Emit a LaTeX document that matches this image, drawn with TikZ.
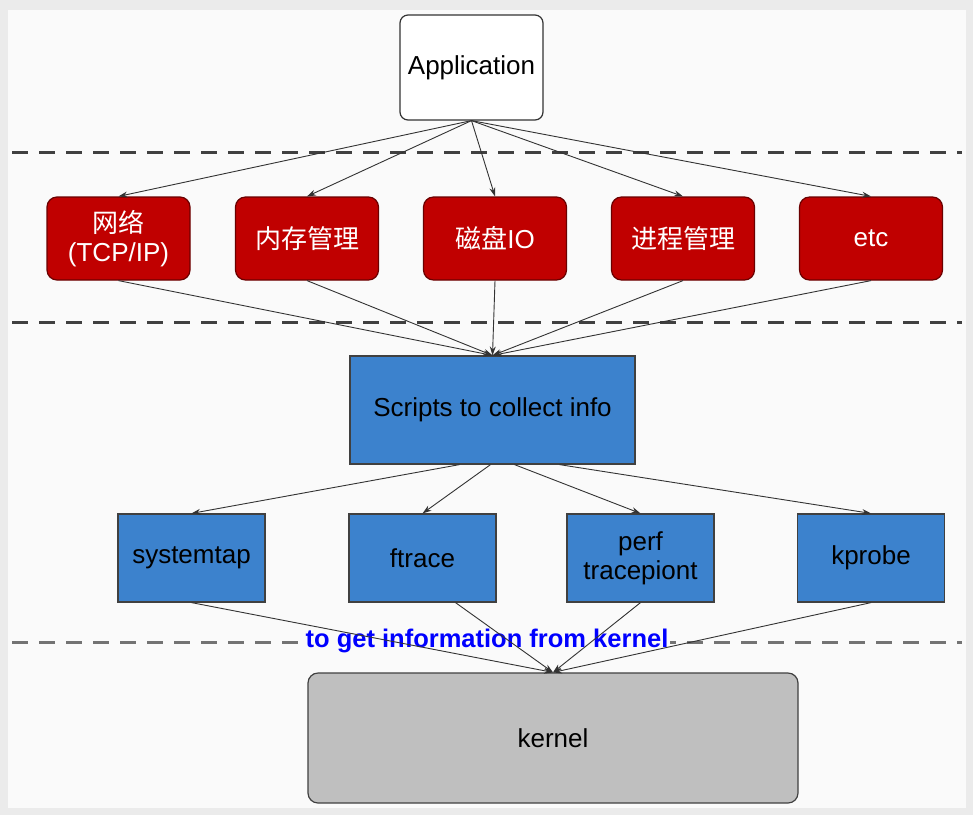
\documentclass[tikz,border=0pt]{standalone}
\usepackage{fontspec}
\setmainfont{Liberation Sans}
\newfontfamily\cjk{Noto Sans CJK SC}
\usepackage{tikz}
\usetikzlibrary{positioning}
\usetikzlibrary{arrows.meta}
\usepackage{xcolor}
\definecolor{layerred}{RGB}{192,0,0}
\definecolor{layerblue}{RGB}{60,130,205}
\definecolor{kernelgray}{RGB}{191,191,191}
\definecolor{pagebg}{RGB}{250,250,250}

\begin{document}
\begin{tikzpicture}[x=1pt,y=-1pt,
    every node/.style={font=\fontsize{26}{29}\selectfont, inner sep=0pt, align=center},
    appbox/.style={draw=black!80, line width=1.2pt, fill=white, rounded corners=8pt,
        minimum width=143pt, minimum height=105pt},
    redbox/.style={draw=layerred!55!black, line width=1.2pt, fill=layerred, text=white,
        rounded corners=10pt, minimum width=143pt, minimum height=83pt},
    bluebox/.style={draw=black!75, line width=1.2pt, fill=layerblue,
        minimum width=147pt, minimum height=88pt},
    sepline/.style={black!75, line width=3pt, dash pattern=on 16pt off 11pt},
    conn/.style={black!80, line width=0.9pt, -{Stealth[length=9pt,width=6pt]}}]
    \useasboundingbox (0,0) rectangle (973,815);
    \fill[black!8] (0,0) rectangle (973,815);
    \fill[pagebg] (8,10) rectangle (966,808);

    % layer separators
    \draw[sepline] (12,152) -- (962,152);
    \draw[sepline] (12,322) -- (962,322);
    \draw[sepline, black!55] (12,642) -- (962,642);

    % user space
    \node[appbox] (app) at (471.5,67.5) {Application};

    % subsystems
    \node[redbox] (net)  at (118.5,238.5) {{\cjk 网络}\\(TCP/IP)};
    \node[redbox] (mem)  at (307,238.5)   {\cjk 内存管理};
    \node[redbox] (disk) at (495,238.5)   {{\cjk 磁盘}IO};
    \node[redbox] (proc) at (683,238.5)   {\cjk 进程管理};
    \node[redbox] (etc)  at (871,238.5)   {etc};

    % collecting scripts and tools
    \node[bluebox, minimum width=285pt, minimum height=108pt] (scripts) at (492.5,410) {Scripts to collect info};
    \node[bluebox] (stap)   at (191.5,558) {systemtap};
    \node[bluebox] (ftrace) at (422.5,558) {ftrace};
    \node[bluebox] (perf)   at (640.5,558) {perf\\tracepiont};
    \node[bluebox] (kprobe) at (871,558)   {kprobe};

    \node[fill=pagebg, text=blue, font=\bfseries\fontsize{25.5}{29}\selectfont, inner sep=2pt] (info) at (487,641) {to get information from kernel};

    % kernel
    \node[draw=black!75, line width=1.2pt, fill=kernelgray, rounded corners=10pt,
        minimum width=490pt, minimum height=130pt] (kernel) at (553,738) {kernel};

    % connectors
    \foreach \t in {net,mem,disk,proc,etc} {
        \draw[conn] (app.south) -- (\t.north);
    }
    \foreach \s in {net,mem,disk,proc,etc} {
        \draw[conn] (\s.south) -- (scripts.north);
    }
    \foreach \t/\dx in {stap/-33,ftrace/-2,perf/22,kprobe/67} {
        \draw[conn] ([xshift=\dx]scripts.south) -- (\t.north);
    }
    \foreach \s/\dx in {stap/0,ftrace/33,perf/0,kprobe/0} {
        \draw[conn] ([xshift=\dx]\s.south) -- (kernel.north);
    }
\end{tikzpicture}
\end{document}
